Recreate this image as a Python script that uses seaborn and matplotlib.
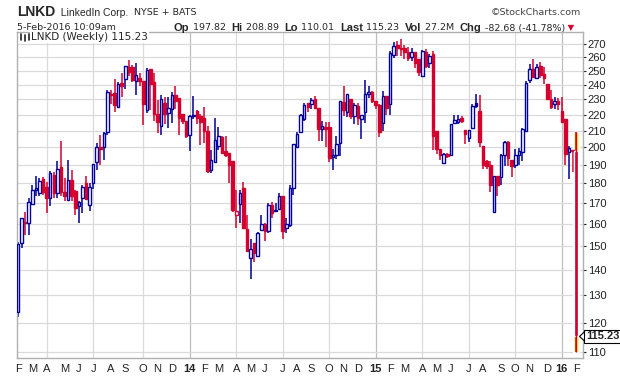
import numpy as np
import pandas as pd
import matplotlib
matplotlib.use("Agg")
import matplotlib.pyplot as plt
import seaborn as sns
from matplotlib.patches import Polygon

# Weekly OHLC for LNKD (week starting Monday 2013-02-04)
open_ = [123.6, 151.5, 161.1, 160.6, 169.7, 176.7, 175.0, 182.4, 178.3, 172.5,
         184.6, 175.0, 189.0, 175.8, 171.3, 181.8, 176.1, 168.4, 172.5, 180.0,
         169.2, 180.0, 191.5, 200.3, 200.0, 209.0, 234.0, 234.6, 225.0, 241.2,
         244.0, 253.0, 253.0, 242.4, 244.8, 242.8, 223.0, 251.2, 241.7, 220.2,
         212.8, 227.7, 220.8, 224.0, 233.0, 230.7, 220.2, 216.0, 207.5, 219.6,
         222.3, 219.4, 217.6, 209.6, 187.0, 191.5, 200.8, 206.2, 198.0, 196.8,
         192.4, 164.0, 169.7, 177.5, 157.8, 144.7, 151.5, 145.8, 157.0, 160.0,
         156.6, 169.2, 166.8, 167.0, 173.3, 158.0, 159.6, 177.5, 200.4, 209.0,
         217.0, 227.7, 226.8, 230.0, 224.6, 211.0, 212.0, 212.3, 194.3, 195.6,
         202.7, 228.4, 222.0, 230.0, 219.0, 225.8, 217.3, 222.0, 233.4, 235.3,
         228.8, 226.6, 215.0, 232.0, 227.2, 262.0, 269.6, 267.0, 267.0, 264.5,
         260.0, 264.0, 258.5, 246.0, 264.0, 255.5, 262.5, 209.6, 199.0, 191.0,
         196.3, 195.6, 215.0, 215.5, 218.0, 210.2, 205.8, 211.9, 227.5, 222.7,
         201.0, 192.0, 190.2, 165.8, 184.0, 183.5, 195.7, 203.3, 193.0, 190.2,
         195.5, 197.2, 209.6, 243.6, 251.2, 244.8, 253.6, 247.5, 240.8, 230.4,
         227.0, 228.8, 222.5, 217.0, 197.3, 198.6, 197.82]
high = [151.6, 163.0, 165.5, 172.4, 179.2, 184.1, 182.9, 183.5, 180.9, 186.5,
        186.0, 192.0, 203.5, 182.9, 193.0, 187.2, 176.7, 170.8, 179.2, 184.1,
        180.0, 190.5, 202.3, 207.5, 209.4, 236.4, 236.4, 244.0, 241.7, 248.8,
        253.7, 258.0, 254.4, 255.6, 248.8, 242.8, 252.0, 251.2, 248.8, 229.5,
        233.0, 231.9, 231.9, 235.3, 239.3, 230.7, 220.2, 216.0, 219.6, 232.0,
        222.9, 220.2, 225.3, 212.8, 198.5, 217.6, 212.3, 207.0, 207.0, 196.8,
        192.4, 176.7, 176.7, 180.9, 164.2, 152.9, 151.5, 156.2, 164.3, 160.6,
        170.0, 170.3, 170.0, 175.0, 173.3, 162.7, 179.2, 202.0, 209.4, 220.2,
        227.7, 227.7, 231.0, 232.0, 224.6, 216.3, 215.3, 215.3, 199.2, 207.0,
        229.0, 239.5, 233.6, 230.0, 227.8, 227.8, 220.0, 243.5, 239.5, 236.0,
        228.8, 227.0, 235.5, 232.0, 264.8, 272.0, 273.0, 274.5, 269.4, 268.3,
        267.0, 264.5, 258.5, 266.0, 266.6, 262.5, 264.8, 209.6, 199.0, 197.0,
        197.0, 214.0, 220.0, 220.0, 219.0, 210.2, 210.2, 226.8, 233.5, 233.0,
        201.0, 193.0, 192.4, 184.0, 184.0, 196.0, 203.7, 203.7, 193.0, 199.0,
        199.5, 211.8, 242.6, 255.0, 258.5, 255.0, 256.5, 253.0, 240.8, 236.6,
        231.4, 231.0, 231.5, 217.0, 201.0, 198.6, 208.89]
low = [121.8, 149.3, 155.1, 154.7, 169.2, 173.3, 173.3, 174.2, 165.3, 168.4,
       172.5, 172.5, 173.3, 170.8, 170.8, 170.8, 164.2, 160.3, 165.3, 171.7,
       166.0, 177.0, 187.0, 190.2, 193.0, 207.5, 226.7, 221.9, 224.5, 231.9,
       237.0, 246.0, 241.7, 233.0, 239.3, 213.2, 220.8, 223.3, 216.0, 208.5,
       207.5, 214.0, 211.8, 215.0, 224.0, 207.5, 213.8, 205.5, 198.0, 217.0,
       214.0, 201.5, 202.5, 185.8, 185.7, 191.0, 198.5, 196.0, 194.6, 180.0,
       165.5, 158.0, 160.6, 157.5, 147.5, 136.1, 143.1, 145.8, 157.0, 152.2,
       155.9, 162.7, 165.9, 167.0, 152.9, 156.0, 158.7, 174.2, 200.4, 208.5,
       216.0, 221.9, 223.4, 223.4, 204.0, 203.8, 200.0, 191.7, 187.3, 193.2,
       195.0, 219.4, 218.3, 217.3, 214.3, 213.3, 205.0, 215.0, 231.0, 227.6,
       223.4, 206.0, 210.0, 219.8, 219.8, 259.7, 261.0, 261.0, 258.5, 257.5,
       257.6, 251.8, 246.0, 245.6, 252.3, 252.3, 198.2, 196.0, 193.0, 190.4,
       194.0, 195.0, 214.0, 214.0, 215.0, 202.0, 203.0, 211.0, 224.6, 200.4,
       187.6, 188.0, 175.4, 165.5, 173.6, 179.4, 189.3, 189.3, 183.6, 188.5,
       190.2, 192.0, 209.0, 241.0, 245.2, 244.0, 245.2, 240.8, 229.9, 224.0,
       224.0, 223.0, 215.0, 190.2, 182.4, 186.4, 110.01]
close = [150.7, 162.7, 160.3, 170.3, 176.7, 177.5, 181.3, 175.8, 172.5, 185.6,
         175.0, 188.0, 175.8, 173.3, 182.1, 173.8, 167.6, 170.5, 178.0, 172.0,
         178.3, 190.5, 200.0, 198.9, 208.4, 235.0, 233.0, 226.0, 240.5, 239.5,
         253.7, 249.5, 243.6, 247.1, 242.8, 226.9, 250.7, 240.5, 220.2, 215.3,
         230.6, 220.2, 224.4, 233.0, 229.0, 218.1, 216.0, 207.0, 219.0, 219.4,
         217.6, 215.6, 209.6, 186.6, 193.0, 204.6, 207.0, 196.8, 195.8, 190.2,
         166.5, 166.3, 175.3, 158.0, 147.9, 148.9, 147.1, 155.9, 160.0, 156.6,
         169.2, 165.2, 166.0, 173.6, 156.6, 160.0, 177.5, 202.0, 208.0, 220.0,
         226.0, 225.0, 229.5, 224.6, 211.0, 213.0, 211.0, 193.8, 195.6, 202.0,
         229.0, 223.0, 233.6, 219.4, 226.4, 218.0, 220.0, 234.0, 235.0, 229.0,
         226.6, 209.0, 232.0, 224.6, 263.5, 268.5, 267.6, 266.5, 264.5, 259.2,
         264.0, 255.5, 249.0, 265.0, 253.5, 261.0, 207.0, 199.0, 195.5, 196.0,
         194.8, 214.0, 216.5, 217.0, 216.0, 207.7, 210.2, 225.6, 225.8, 203.0,
         190.0, 189.3, 179.0, 184.0, 179.4, 195.7, 203.0, 193.8, 189.3, 195.7,
         198.0, 210.8, 241.5, 251.2, 245.6, 253.0, 246.8, 244.8, 230.4, 225.3,
         228.8, 227.0, 215.6, 196.0, 199.4, 197.9, 115.23]
y_ticks = list(range(110, 280, 10))

BLUE = "#00009a"
RED = "#d4002e"
W, H = 620, 376

df = pd.DataFrame({"open": open_, "high": high, "low": low, "close": close})
df["date"] = pd.date_range("2013-02-04", periods=len(df), freq="W-MON")
prev = df["close"].shift(1).fillna(df["open"])
df["color"] = np.where(df["close"] >= prev, BLUE, RED)
df["face"] = np.where(df["close"] >= df["open"], "white", df["color"])
df["lo_body"] = df[["open", "close"]].min(axis=1)
df["h_body"] = (df["open"] - df["close"]).abs().clip(lower=0.4)

sns.set_style("white")
plt.rcParams["font.family"] = ["Liberation Sans", "DejaVu Sans"]

fig = plt.figure(figsize=(W / 100, H / 100), dpi=100)
ax = fig.add_axes([17 / W, 1 - 358 / H, (583 - 17) / W, (358 - 32) / H])
ax.set_yscale("log")

# highlight of the latest bar
last = df.iloc[-1]
ax.bar(last["date"], last["high"] - last["low"], bottom=last["low"], width=11,
       color="#ffff70", zorder=1.5)

body = df.iloc[:-1]
ax.vlines(df["date"], df["low"], df["high"], colors=df["color"], lw=1.1, zorder=2)
ax.bar(body["date"], body["h_body"], bottom=body["lo_body"], width=5.0,
       facecolor=body["face"], edgecolor=body["color"], linewidth=1.0, zorder=3)
ax.bar(last["date"], last["h_body"], bottom=last["lo_body"], width=7,
       color=last["color"], zorder=3)
ax.vlines(last["date"], last["low"], last["high"], colors=last["color"], lw=1.0, zorder=4)

# axes limits and grid
ax.set_xlim(df["date"].iloc[0] - pd.Timedelta(days=2),
            df["date"].iloc[-1] + pd.Timedelta(days=13.5))
ax.set_ylim(108.2, 280)
ax.set_yticks(y_ticks, labels=[str(t) for t in y_ticks])
ax.minorticks_off()
ax.yaxis.tick_right()
ax.grid(axis="y", color="#dadada", lw=0.9, zorder=0)

firsts = df.groupby(df["date"].dt.to_period("M"))["date"].min()
for d in firsts:
    if d.month in (1, 4, 7, 10) and d != df["date"].iloc[0]:
        ax.axvline(d, color="#bdbdbd" if d.month == 1 else "#dadada", lw=0.9, zorder=0.5)
labels = [d.strftime("%y") if d.month == 1 else d.strftime("%b")[0] for d in firsts]
ax.set_xticks(list(firsts), labels=labels)
for d, t in zip(firsts, ax.get_xticklabels()):
    if d.month == 1:
        t.set_fontweight("bold")
        t.set_fontsize(9.5)

ax.tick_params(axis="y", labelsize=8, length=2, pad=1.5, colors="#222222")
ax.tick_params(axis="x", labelsize=8, length=2, pad=2.5, colors="#222222")
for s in ax.spines.values():
    s.set_color("#b0b0b0")
    s.set_linewidth(1.0)

# price tag on the right
ypx = ax.transData.transform((0, last["close"]))[1]
fig.text(586 / W, ypx / H, f"{last['close']:.2f}", fontsize=8, fontweight="bold",
         va="center", ha="left",
         bbox=dict(boxstyle="square,pad=0.15", fc="white", ec="black", lw=0.8))
fig.add_artist(Polygon([(579.5 / W, ypx / H), (585.5 / W, (ypx + 5.5) / H),
                        (585.5 / W, (ypx - 5.5) / H)], closed=True,
                       fc="white", ec="black", lw=0.8))

# legend label inside the plot
fig.text(31 / W, 1 - 36.5 / H, "LNKD (Weekly) 115.23", family="DejaVu Sans",
         fontsize=7.5, va="center", ha="left",
         bbox=dict(fc="white", ec="none", pad=1))
for x0, y0, y1 in [(21, 33.5, 40), (25, 34.5, 40.5), (28.5, 33.5, 39.5)]:
    fig.add_artist(plt.Line2D([x0 / W, x0 / W], [1 - y0 / H, 1 - y1 / H],
                              color="#222222", lw=1.2))

# header lines
renderer = fig.canvas.get_renderer()


def text_run(parts, x, y):
    for s, kw in parts:
        t = fig.text(x / W, 1 - y / H, s, va="center", ha="left", **kw)
        x += t.get_window_extent(renderer=renderer).width
    return x


text_run([("LNKD", dict(fontsize=10, fontweight="bold")),
          ("  LinkedIn Corp.", dict(fontsize=7.5)),
          ("  NYSE + BATS", dict(fontsize=6.8, family="DejaVu Sans"))], 17, 12.5)
fig.text(581 / W, 1 - 12.5 / H, "\u00a9StockCharts.com", fontsize=6.8,
         family="DejaVu Sans", color="#444444", ha="right", va="center")
fig.text(17 / W, 1 - 28 / H, "5-Feb-2016 10:09am", fontsize=6.8,
         family="DejaVu Sans", va="center")

lab = dict(fontsize=8, fontweight="bold")
val = dict(fontsize=6.8, family="DejaVu Sans")
text_run([("Op", lab), (" 197.82  ", val), ("Hi", lab), (" 208.89  ", val),
          ("Lo", lab), (" 110.01  ", val), ("Last", lab), (" 115.23  ", val),
          ("Vol", lab), (" 27.2M  ", val), ("Chg", lab), (" -82.68 (-41.78%)", val),
          (" \u25bc", dict(fontsize=6, family="DejaVu Sans", color=RED))], 174, 28)

fig.savefig("out.png", dpi=100)
